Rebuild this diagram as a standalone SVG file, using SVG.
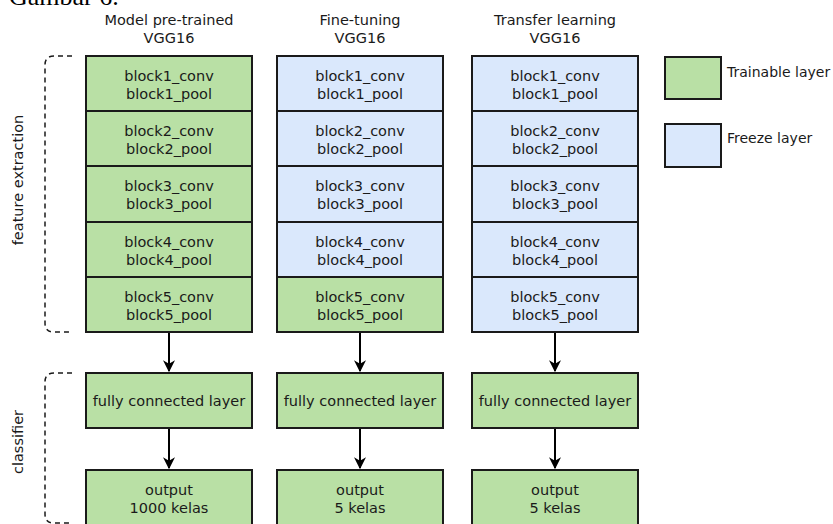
<svg xmlns="http://www.w3.org/2000/svg" width="833" height="524" viewBox="0 0 833 524">
  <style>
    .t { font-family: "DejaVu Sans", Verdana, sans-serif; font-size: 14.5px; fill: #1a1a1a; text-anchor: middle; }
    .lg { font-family: "DejaVu Sans", Verdana, sans-serif; font-size: 14px; fill: #1a1a1a; }
    .green { fill: #b9e0a5; stroke: #1a1a1a; stroke-width: 2; }
    .blue { fill: #dae8fc; stroke: #1a1a1a; stroke-width: 2; }
    .br { fill: none; stroke: #1a1a1a; stroke-width: 1.5; stroke-dasharray: 5 4; }
    .ar { stroke: #000; stroke-width: 2; fill: none; }
  </style>
  <defs>
    <marker id="ah" viewBox="0 0 10 10" refX="9" refY="5" markerWidth="6" markerHeight="6" markerUnits="strokeWidth" orient="auto">
      <path d="M0,0 L10,5 L0,10 L3,5 Z" fill="#000"/>
    </marker>
  </defs>

  <rect width="833" height="524" fill="#fff"/>

  <!-- caption -->
  <text x="9" y="5" font-family="Liberation Serif, serif" font-size="26" fill="#000">Gambar 6.</text>

  <!-- side brackets -->
  <g id="bracket-feature">
    <path class="br" d="M72,56 H54 Q45,56 45,65 V323 Q45,332 54,332 H72"/>
    <text class="t" transform="translate(23,180) rotate(-90)">feature extraction</text>
  </g>
  <g id="bracket-classifier">
    <path class="br" d="M72,373 H54 Q45,373 45,382 V514 Q45,523 54,523 H72"/>
    <text class="t" transform="translate(23,442) rotate(-90)">classifier</text>
  </g>

  <!-- column 1: model pre-trained -->
  <g id="col1-title"><text class="t" x="169" y="25">Model pre-trained</text><text class="t" x="169" y="43">VGG16</text></g>
  <g id="col1-b1"><rect class="green" x="86" y="56" width="166" height="55"/><text class="t" x="169" y="81">block1_conv</text><text class="t" x="169" y="99">block1_pool</text></g>
  <g id="col1-b2"><rect class="green" x="86" y="111" width="166" height="55"/><text class="t" x="169" y="136">block2_conv</text><text class="t" x="169" y="154">block2_pool</text></g>
  <g id="col1-b3"><rect class="green" x="86" y="166" width="166" height="56"/><text class="t" x="169" y="191">block3_conv</text><text class="t" x="169" y="209">block3_pool</text></g>
  <g id="col1-b4"><rect class="green" x="86" y="222" width="166" height="55"/><text class="t" x="169" y="247">block4_conv</text><text class="t" x="169" y="265">block4_pool</text></g>
  <g id="col1-b5"><rect class="green" x="86" y="277" width="166" height="55"/><text class="t" x="169" y="302">block5_conv</text><text class="t" x="169" y="320">block5_pool</text></g>
  <g id="col1-fc"><rect class="green" x="86" y="373" width="166" height="55"/><text class="t" x="169" y="406">fully connected layer</text></g>
  <g id="col1-out"><rect class="green" x="86" y="470" width="166" height="60"/><text class="t" x="169" y="495">output</text><text class="t" x="169" y="513">1000 kelas</text></g>

  <!-- column 2: fine-tuning -->
  <g id="col2-title"><text class="t" x="360" y="25">Fine-tuning</text><text class="t" x="360" y="43">VGG16</text></g>
  <g id="col2-b1"><rect class="blue" x="277" y="56" width="166" height="55"/><text class="t" x="360" y="81">block1_conv</text><text class="t" x="360" y="99">block1_pool</text></g>
  <g id="col2-b2"><rect class="blue" x="277" y="111" width="166" height="55"/><text class="t" x="360" y="136">block2_conv</text><text class="t" x="360" y="154">block2_pool</text></g>
  <g id="col2-b3"><rect class="blue" x="277" y="166" width="166" height="56"/><text class="t" x="360" y="191">block3_conv</text><text class="t" x="360" y="209">block3_pool</text></g>
  <g id="col2-b4"><rect class="blue" x="277" y="222" width="166" height="55"/><text class="t" x="360" y="247">block4_conv</text><text class="t" x="360" y="265">block4_pool</text></g>
  <g id="col2-b5"><rect class="green" x="277" y="277" width="166" height="55"/><text class="t" x="360" y="302">block5_conv</text><text class="t" x="360" y="320">block5_pool</text></g>
  <g id="col2-fc"><rect class="green" x="277" y="373" width="166" height="55"/><text class="t" x="360" y="406">fully connected layer</text></g>
  <g id="col2-out"><rect class="green" x="277" y="470" width="166" height="60"/><text class="t" x="360" y="495">output</text><text class="t" x="360" y="513">5 kelas</text></g>

  <!-- column 3: transfer learning -->
  <g id="col3-title"><text class="t" x="555" y="25">Transfer learning</text><text class="t" x="555" y="43">VGG16</text></g>
  <g id="col3-b1"><rect class="blue" x="472" y="56" width="166" height="55"/><text class="t" x="555" y="81">block1_conv</text><text class="t" x="555" y="99">block1_pool</text></g>
  <g id="col3-b2"><rect class="blue" x="472" y="111" width="166" height="55"/><text class="t" x="555" y="136">block2_conv</text><text class="t" x="555" y="154">block2_pool</text></g>
  <g id="col3-b3"><rect class="blue" x="472" y="166" width="166" height="56"/><text class="t" x="555" y="191">block3_conv</text><text class="t" x="555" y="209">block3_pool</text></g>
  <g id="col3-b4"><rect class="blue" x="472" y="222" width="166" height="55"/><text class="t" x="555" y="247">block4_conv</text><text class="t" x="555" y="265">block4_pool</text></g>
  <g id="col3-b5"><rect class="blue" x="472" y="277" width="166" height="55"/><text class="t" x="555" y="302">block5_conv</text><text class="t" x="555" y="320">block5_pool</text></g>
  <g id="col3-fc"><rect class="green" x="472" y="373" width="166" height="55"/><text class="t" x="555" y="406">fully connected layer</text></g>
  <g id="col3-out"><rect class="green" x="472" y="470" width="166" height="60"/><text class="t" x="555" y="495">output</text><text class="t" x="555" y="513">5 kelas</text></g>

  <!-- legend -->
  <g id="legend-trainable"><rect class="green" x="665" y="57" width="56" height="42"/><text class="lg" x="727" y="77">Trainable layer</text></g>
  <g id="legend-freeze"><rect class="blue" x="665" y="124" width="56" height="43"/><text class="lg" x="727" y="143">Freeze layer</text></g>

  <!-- connectors -->
  <g id="connectors">
    <line class="ar" x1="169" y1="333" x2="169" y2="371" marker-end="url(#ah)"/>
    <line class="ar" x1="169" y1="429" x2="169" y2="468" marker-end="url(#ah)"/>
    <line class="ar" x1="360" y1="333" x2="360" y2="371" marker-end="url(#ah)"/>
    <line class="ar" x1="360" y1="429" x2="360" y2="468" marker-end="url(#ah)"/>
    <line class="ar" x1="555" y1="333" x2="555" y2="371" marker-end="url(#ah)"/>
    <line class="ar" x1="555" y1="429" x2="555" y2="468" marker-end="url(#ah)"/>
  </g>
</svg>
